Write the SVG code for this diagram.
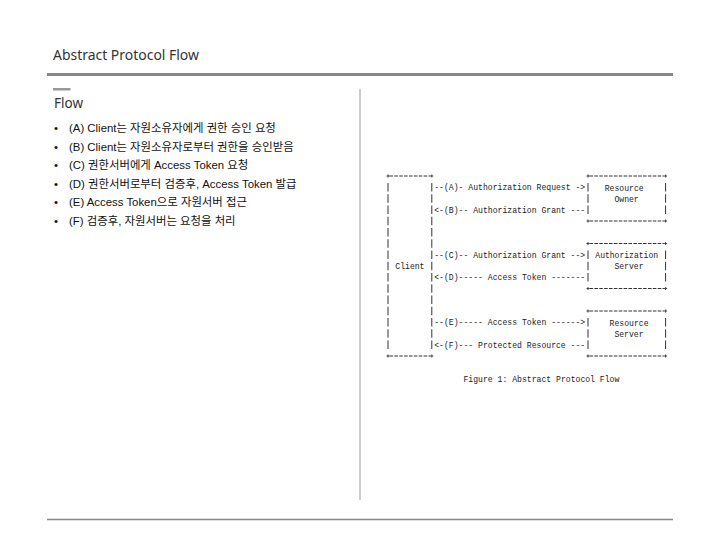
<svg xmlns="http://www.w3.org/2000/svg" width="720" height="540" viewBox="0 0 720 540">
<style>
.title{font-family:"Noto Sans","Open Sans",sans-serif;fill:#333}
.item{font-family:"Liberation Sans","Noto Sans CJK KR",sans-serif;font-size:11.4px;fill:#111}
.mono{font-family:"Liberation Mono","DejaVu Sans Mono",monospace;font-size:9.4px;fill:#222}
.conn{font-size:8.6px}
.h{stroke:#333;stroke-width:1;stroke-dasharray:3.6 1.27;fill:none}
.v{stroke:#333;stroke-width:1;stroke-dasharray:8.5 2.75;fill:none}
.plus{stroke:#333;stroke-width:0.9;fill:none}
</style>
<rect width="720" height="540" fill="#fff"/>
<g id="header">
<text class="title" x="53" y="60" font-size="15" textLength="146" lengthAdjust="spacingAndGlyphs">Abstract Protocol Flow</text>
<rect x="47" y="73" width="626" height="3" fill="#888"/>
<rect x="53" y="88" width="17.5" height="2.5" fill="#999"/>
<text class="title" x="54" y="108" font-size="13.5">Flow</text>
<line x1="360" y1="89" x2="360" y2="500" stroke="#bbb" stroke-width="1.5"/>
<line x1="47" y1="519.5" x2="673" y2="519.5" stroke="#888" stroke-width="1.3"/>
</g>
<g id="bullets">
<text class="item" x="54" y="132">•</text><text class="item" x="69" y="132">(A) Client는 자원소유자에게 권한 승인 요청</text>
<text class="item" x="54" y="150.5">•</text><text class="item" x="69" y="150.5">(B) Client는 자원소유자로부터 권한을 승인받음</text>
<text class="item" x="54" y="169">•</text><text class="item" x="69" y="169">(C) 권한서버에게 Access Token 요청</text>
<text class="item" x="54" y="187.5">•</text><text class="item" x="69" y="187.5">(D) 권한서버로부터 검증후, Access Token 발급</text>
<text class="item" x="54" y="206">•</text><text class="item" x="69" y="206">(E) Access Token으로 자원서버 접근</text>
<text class="item" x="54" y="224.5">•</text><text class="item" x="69" y="224.5">(F) 검증후, 자원서버는 요청을 처리</text>
</g>
<g id="client">
<line class="h" x1="389.5" y1="176" x2="430.3" y2="176"/>
<line class="h" x1="389.5" y1="356" x2="430.3" y2="356"/>
<line class="v" x1="388" y1="183" x2="388" y2="349"/>
<line class="v" x1="431.8" y1="183" x2="431.8" y2="349"/>
<path class="plus" d="M386.5 176h3M388 174.5v3M430.3 176h3M431.8 174.5v3M386.5 356h3M388 354.5v3M430.3 356h3M431.8 354.5v3"/>
<text class="mono" x="395.3" y="269.3" textLength="29.2" lengthAdjust="spacingAndGlyphs">Client</text>
</g>
<g id="resource-owner">
<line class="h" x1="589.5" y1="176" x2="664.1" y2="176"/>
<line class="h" x1="589.5" y1="221" x2="664.1" y2="221"/>
<line class="v" x1="588" y1="183" x2="588" y2="214"/>
<line class="v" x1="665.6" y1="183" x2="665.6" y2="214"/>
<path class="plus" d="M586.5 176h3M588 174.5v3M664.1 176h3M665.6 174.5v3M586.5 221h3M588 219.5v3M664.1 221h3M665.6 219.5v3"/>
<text class="mono" x="604.7" y="190.55" textLength="38.96" lengthAdjust="spacingAndGlyphs">Resource</text>
<text class="mono" x="614.4" y="201.8" textLength="24.35" lengthAdjust="spacingAndGlyphs">Owner</text>
</g>
<g id="authorization-server">
<line class="h" x1="589.5" y1="243.5" x2="664.1" y2="243.5"/>
<line class="h" x1="589.5" y1="288.5" x2="664.1" y2="288.5"/>
<line class="v" x1="588" y1="250.5" x2="588" y2="281.5"/>
<line class="v" x1="665.6" y1="250.5" x2="665.6" y2="281.5"/>
<path class="plus" d="M586.5 243.5h3M588 242v3M664.1 243.5h3M665.6 242v3M586.5 288.5h3M588 287v3M664.1 288.5h3M665.6 287v3"/>
<text class="mono" x="595.3" y="257.9" font-size="9" textLength="62.8" lengthAdjust="spacingAndGlyphs">Authorization</text>
<text class="mono" x="614.4" y="269.3" textLength="29.2" lengthAdjust="spacingAndGlyphs">Server</text>
</g>
<g id="resource-server">
<line class="h" x1="589.5" y1="311" x2="664.1" y2="311"/>
<line class="h" x1="589.5" y1="356" x2="664.1" y2="356"/>
<line class="v" x1="588" y1="318" x2="588" y2="349"/>
<line class="v" x1="665.6" y1="318" x2="665.6" y2="349"/>
<path class="plus" d="M586.5 311h3M588 309.5v3M664.1 311h3M665.6 309.5v3M586.5 356h3M588 354.5v3M664.1 356h3M665.6 354.5v3"/>
<text class="mono" x="609.6" y="325.55" textLength="38.96" lengthAdjust="spacingAndGlyphs">Resource</text>
<text class="mono" x="614.4" y="336.8" textLength="29.2" lengthAdjust="spacingAndGlyphs">Server</text>
</g>
<g id="connectors">
<text class="mono conn" x="434.25" y="190.4" textLength="150.97" lengthAdjust="spacingAndGlyphs" xml:space="preserve">--(A)- Authorization Request -&gt;</text>
<text class="mono conn" x="434.25" y="212.9" textLength="150.97" lengthAdjust="spacingAndGlyphs" xml:space="preserve">&lt;-(B)-- Authorization Grant ---</text>
<text class="mono conn" x="434.25" y="257.9" textLength="150.97" lengthAdjust="spacingAndGlyphs" xml:space="preserve">--(C)-- Authorization Grant --&gt;</text>
<text class="mono conn" x="434.25" y="280.4" textLength="150.97" lengthAdjust="spacingAndGlyphs" xml:space="preserve">&lt;-(D)----- Access Token -------</text>
<text class="mono conn" x="434.25" y="325.4" textLength="150.97" lengthAdjust="spacingAndGlyphs" xml:space="preserve">--(E)----- Access Token ------&gt;</text>
<text class="mono conn" x="434.25" y="347.9" textLength="150.97" lengthAdjust="spacingAndGlyphs" xml:space="preserve">&lt;-(F)--- Protected Resource ---</text>
</g>
<text class="mono" x="463.5" y="381.8" textLength="155.84" lengthAdjust="spacingAndGlyphs" xml:space="preserve">Figure 1: Abstract Protocol Flow</text>
</svg>
